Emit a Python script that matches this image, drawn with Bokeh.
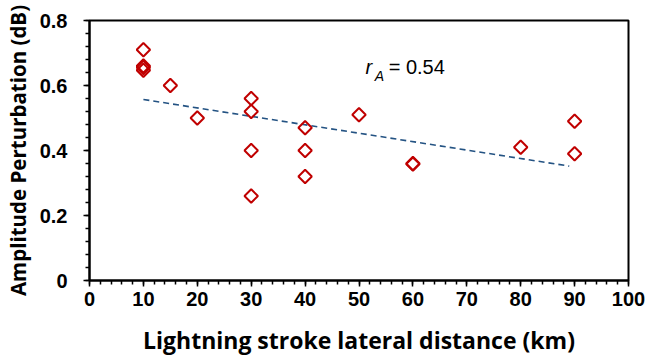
import numpy as np
from bokeh.plotting import figure
from bokeh.models import FixedTicker, Range1d, Label, ColumnDataSource
from bokeh.embed import file_html
from bokeh.resources import INLINE

# ---- data ----
distance_km = [10, 10, 10, 10, 15, 20, 30, 30, 30, 30, 40, 40, 40, 50, 60, 60, 80, 90, 90]
amplitude_db = [0.71, 0.66, 0.655, 0.647, 0.60, 0.50, 0.56, 0.52, 0.40, 0.26,
                0.47, 0.40, 0.32, 0.51, 0.36, 0.358, 0.41, 0.49, 0.39]
trend_x = [10, 89]
trend_y = [0.557, 0.352]
x_ticks = [0, 10, 20, 30, 40, 50, 60, 70, 80, 90, 100]
x_minor = [v for v in range(0, 101, 2)]
y_ticks = [0, 0.2, 0.4, 0.6, 0.8]
y_tick_labels = ["0", "0.2", "0.4", "0.6", "0.8"]
y_minor = [round(i * 0.04, 2) for i in range(0, 21)]
x_title = "Lightning stroke lateral distance (km)"
y_title = "Amplitude Perturbation (dB)"
corr_label = "= 0.54"

p = figure(width=646, height=358, output_backend="svg", toolbar_location=None,
           x_range=Range1d(0, 100), y_range=Range1d(0, 0.8),
           min_border_left=89, min_border_right=18, min_border_top=20, min_border_bottom=78)
p.grid.visible = False
p.outline_line_color = "black"
p.outline_line_width = 2
p.background_fill_color = "white"
p.border_fill_color = "white"

src = ColumnDataSource(dict(x=distance_km, y=amplitude_db))
p.line(trend_x, trend_y, line_color="#245383", line_width=1.6, line_dash="6 4")
p.scatter("x", "y", source=src, marker="square", size=9.5, angle=np.pi / 4,
          fill_color=None, line_color="#C00000", line_width=2)

tick_font = "Liberation Sans"
xa = p.xaxis[0]
xa.ticker = FixedTicker(ticks=x_ticks, minor_ticks=x_minor)
ya = p.yaxis[0]
ya.ticker = FixedTicker(ticks=y_ticks, minor_ticks=y_minor)
ya.major_label_overrides = {t: l for t, l in zip(y_ticks, y_tick_labels)}
for ax in (xa, ya):
    ax.axis_line_width = 2
    ax.axis_line_color = "black"
    ax.major_tick_line_width = 1.5
    ax.minor_tick_line_width = 1.5
    ax.major_tick_in = 0
    ax.major_tick_out = 6
    ax.minor_tick_in = 0
    ax.minor_tick_out = 4
    ax.major_label_text_font = tick_font
    ax.major_label_text_font_style = "bold"
    ax.major_label_text_font_size = "20px"
    ax.major_label_text_color = "black"
    ax.axis_label_text_font = "Open Sans"
    ax.axis_label_text_font_style = "bold"
    ax.axis_label_text_color = "black"
xa.axis_label_text_font_size = "23px"
ya.axis_label_text_font_size = "20.5px"
xa.axis_label = x_title
ya.axis_label = y_title
xa.major_label_standoff = 5
xa.axis_label_standoff = 15
ya.major_label_standoff = 16
ya.axis_label_standoff = 5

p.add_layout(Label(x=51.2, y=0.657, text="r", text_font="Liberation Sans", text_color="black",
                   text_font_style="italic", text_font_size="20px", text_baseline="alphabetic"))
p.add_layout(Label(x=52.9, y=0.630, text="A", text_font="Liberation Sans", text_color="black",
                   text_font_style="italic", text_font_size="14px", text_baseline="alphabetic"))
p.add_layout(Label(x=55.5, y=0.657, text=corr_label, text_font="Liberation Sans", text_color="black",
                   text_font_size="20px", text_baseline="alphabetic"))

open("out.html", "w").write(file_html(p, INLINE))
